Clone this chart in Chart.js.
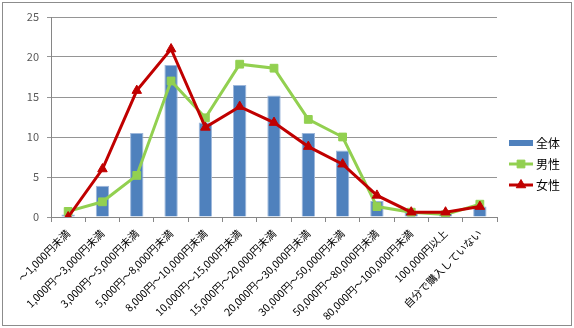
<!DOCTYPE html>
<html>
<head>
<meta charset="utf-8">
<script src="https://cdn.jsdelivr.net/npm/chart.js@4"></script>
<style>
  body { margin: 0; background: #fff; }
  #wrap { position: relative; width: 574px; height: 328px; }
  #frame { position: absolute; left: 2px; top: 2px; width: 568px; height: 322px; border: 1px solid #8c8c8c; pointer-events: none; }
</style>
</head>
<body>
<div id="wrap">
  <canvas id="chart" width="574" height="328"></canvas>
  <div id="frame"></div>
</div>
<script>
// 価格帯
const categories = [
    "～1,000円未満",
    "1,000円～3,000円未満",
    "3,000円～5,000円未満",
    "5,000円～8,000円未満",
    "8,000円～10,000円未満",
    "10,000円～15,000円未満",
    "15,000円～20,000円未満",
    "20,000円～30,000円未満",
    "30,000円～50,000円未満",
    "50,000円～80,000円未満",
    "80,000円～100,000円未満",
    "100,000円以上",
    "自分で購入していない"
];

// 値 (%)
const zentai = [0.3, 3.9, 10.5, 19.0, 11.8, 16.5, 15.2, 10.5, 8.3, 2.0, 0.7, 0.5, 1.3];
const dansei = [0.7, 1.9, 5.2, 17.0, 12.4, 19.1, 18.6, 12.2, 10.0, 1.3, 0.6, 0.3, 1.6];
const josei  = [0.0, 6.0, 15.8, 21.0, 11.2, 13.8, 11.8, 8.8, 6.6, 2.7, 0.6, 0.6, 1.3];

const yTicks = [0, 5, 10, 15, 20, 25];

const jp = '"Noto Sans CJK JP", "DejaVu Sans", sans-serif';

// 右側の凡例 (Excel風: 線の中央にマーカー)
const legendPlugin = {
    id: 'excelLegend',
    afterDraw(chart) {
        const ctx = chart.ctx;
        const x0 = 509, x1 = 533;
        const rows = [143, 164, 185];
        ctx.save();
        ctx.font = '12px ' + jp;
        ctx.textBaseline = 'middle';
        chart.data.datasets.forEach((ds, i) => {
            const y = rows[i];
            if (ds.type === 'bar') {
                ctx.fillStyle = ds.backgroundColor;
                ctx.fillRect(x0, y - 3, x1 - x0, 6);
            } else {
                ctx.strokeStyle = ds.borderColor;
                ctx.lineWidth = 3;
                ctx.beginPath();
                ctx.moveTo(x0, y);
                ctx.lineTo(x1, y);
                ctx.stroke();
                ctx.fillStyle = ds.pointBackgroundColor;
                ctx.strokeStyle = ds.pointBorderColor;
                ctx.lineWidth = 1;
                Chart.helpers.drawPoint(ctx, {
                    pointStyle: ds.pointStyle,
                    rotation: 0,
                    radius: ds.pointRadius,
                    borderWidth: 1
                }, (x0 + x1) / 2, y);
            }
            ctx.fillStyle = '#000';
            ctx.fillText(ds.label, x1 + 3, y);
        });
        ctx.restore();
    }
};

const ctx = document.getElementById('chart').getContext('2d');

new Chart(ctx, {
    data: {
        labels: categories,
        datasets: [
            {
                type: 'bar',
                label: '全体',
                data: zentai,
                backgroundColor: '#4F81BD',
                borderColor: '#9DB7DB',
                borderWidth: 1,
                barPercentage: 0.78,
                categoryPercentage: 0.5,
                order: 3
            },
            {
                type: 'line',
                label: '男性',
                data: dansei,
                borderColor: '#92D050',
                borderWidth: 3,
                pointStyle: 'rect',
                pointRadius: 5.5,
                pointBackgroundColor: '#92D050',
                pointBorderColor: '#92D050',
                pointBorderWidth: 1,
                tension: 0,
                order: 2
            },
            {
                type: 'line',
                label: '女性',
                data: josei,
                borderColor: '#C00000',
                borderWidth: 3,
                pointStyle: 'triangle',
                pointRadius: 5.5,
                pointBackgroundColor: '#C00000',
                pointBorderColor: '#C00000',
                pointBorderWidth: 1,
                tension: 0,
                order: 1
            }
        ]
    },
    options: {
        responsive: false,
        animation: false,
        layout: { padding: { left: 0, right: 77, top: 17, bottom: 0 } },
        plugins: {
            legend: { display: false },
            tooltip: { enabled: false }
        },
        scales: {
            x: {
                offset: true,
                grid: {
                    offset: true,
                    drawOnChartArea: false,
                    drawTicks: true,
                    tickLength: 5,
                    color: '#868686'
                },
                border: { color: '#868686' },
                ticks: {
                    autoSkip: false,
                    maxRotation: 45,
                    minRotation: 45,
                    padding: 5,
                    color: '#000',
                    font: { family: jp, size: 10.5 }
                },
                afterFit(scale) { scale.height = 111; }
            },
            y: {
                min: 0,
                max: 25,
                afterBuildTicks(scale) { scale.ticks = yTicks.map(v => ({ value: v })); },
                grid: {
                    color: '#959595',
                    tickLength: 4
                },
                border: { color: '#868686' },
                ticks: {
                    padding: 8,
                    color: '#595959',
                    font: { family: jp, size: 11 }
                },
                afterFit(scale) { scale.width = 51; }
            }
        }
    },
    plugins: [legendPlugin]
});
</script>
</body>
</html>
